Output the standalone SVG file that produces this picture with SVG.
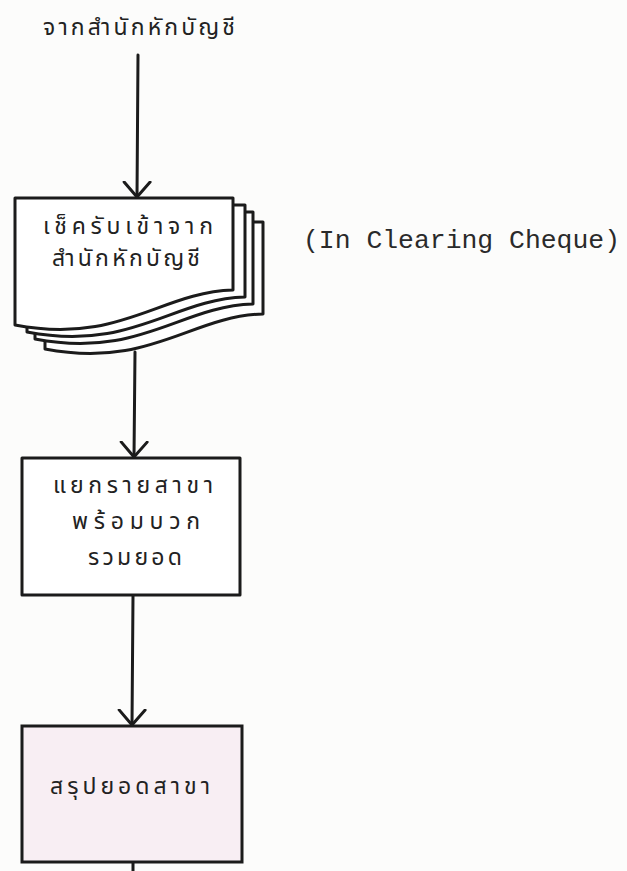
<svg xmlns="http://www.w3.org/2000/svg" width="627" height="871" viewBox="0 0 627 871">
<defs>
<style>
.ln{fill:none;stroke:#1b1b1b;stroke-width:3;stroke-linecap:round;stroke-linejoin:round}
.pg{fill:#ffffff;stroke:#1b1b1b;stroke-width:3;stroke-linejoin:round}
.th{font-family:"Noto Sans Thai","Noto Sans","DejaVu Sans",sans-serif;font-size:23px;fill:#222;text-anchor:start}
.en{font-family:"Liberation Mono","Courier New",monospace;font-size:25px;fill:#2a2a2a}
</style>
<marker id="arr" viewBox="-16 -16 32 32" refX="0" refY="0" markerWidth="32" markerHeight="32" markerUnits="userSpaceOnUse" orient="auto">
<path d="M-15,-13 L0,0 L-15,13" fill="none" stroke="#1b1b1b" stroke-width="3" stroke-linecap="round" stroke-linejoin="round"/>
</marker>
<path id="doc" d="M15,198 H233 V290 C160,292 120,345 15,325 Z"/>
</defs>
<rect width="627" height="871" fill="#fcfcfb"/>
<g id="source">
<text class="th" x="43" y="35" font-size="26" textLength="192" lengthAdjust="spacing">จากสำนักหักบัญชี</text>
</g>
<g id="doc-in-clearing">
<use href="#doc" class="pg" transform="translate(30,24)"/>
<use href="#doc" class="pg" transform="translate(20,14)"/>
<use href="#doc" class="pg" transform="translate(12,7)"/>
<use href="#doc" class="pg"/>
<text class="th" x="43" y="234" textLength="170" lengthAdjust="spacing">เช็ครับเข้าจาก</text>
<text class="th" x="52" y="266" textLength="148" lengthAdjust="spacing">สำนักหักบัญชี</text>
</g>
<g id="note">
<text class="en" x="303" y="248" textLength="317" lengthAdjust="spacingAndGlyphs">(In Clearing Cheque)</text>
</g>
<g id="split">
<rect x="22" y="458" width="218" height="137" class="pg"/>
<text class="th" x="53" y="493" textLength="160" lengthAdjust="spacing">แยกรายสาขา</text>
<text class="th" x="72" y="529" textLength="128" lengthAdjust="spacing">พร้อมบวก</text>
<text class="th" x="88" y="565" textLength="94" lengthAdjust="spacing">รวมยอด</text>
</g>
<g id="summary">
<rect x="22" y="726" width="220" height="136" fill="#f8eef3" stroke="#1b1b1b" stroke-width="3"/>
<text class="th" x="50" y="794" font-size="25" textLength="160" lengthAdjust="spacing">สรุปยอดสาขา</text>
</g>
<g id="connectors">
<path class="ln" d="M138,55 L137,197" marker-end="url(#arr)"/>
<path class="ln" d="M135,352 L134,457" marker-end="url(#arr)"/>
<path class="ln" d="M133,596 L132,725" marker-end="url(#arr)"/>
<path class="ln" d="M133,863 L133,875"/>
</g>
</svg>
